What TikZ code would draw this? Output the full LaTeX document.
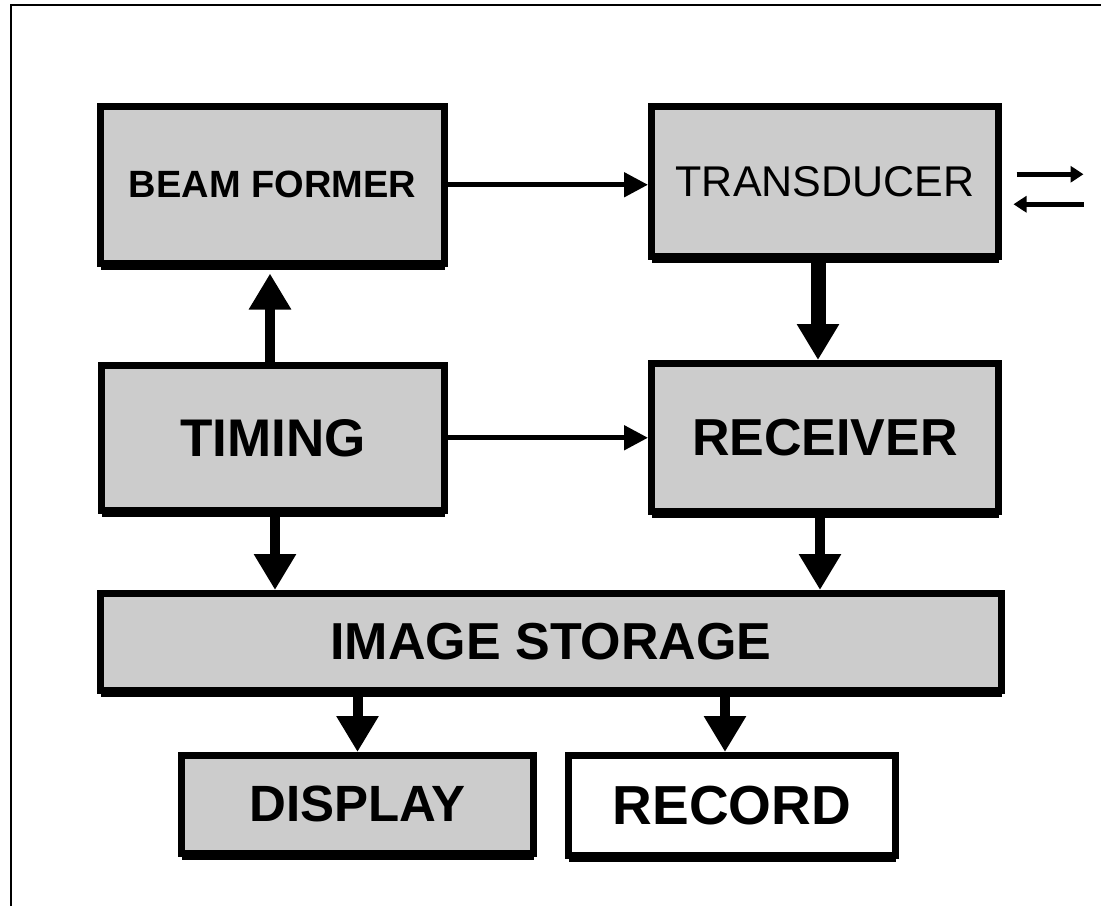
\documentclass[tikz,border=0pt]{standalone}
\usepackage{fontspec}
\setmainfont{Liberation Sans}
\usetikzlibrary{arrows.meta,shapes,shadows}
\definecolor{boxgray}{RGB}{204,204,204}
\tikzset{
  basic/.style  = {draw, line width=7pt, rectangle, inner sep=0pt,
                   drop shadow={shadow xshift=0pt, shadow yshift=-7pt,
                   fill=black, opacity=1}},
  block/.style  = {basic, fill=boxgray},
  blank/.style  = {basic, fill=white},
  thin arrow/.style  = {line width=5pt, -{Triangle[length=24pt,width=24pt]}},
  thick arrow/.style = {line width=10pt, -{Triangle[length=36pt,width=40pt]}},
  small arrow/.style = {line width=4.5pt, -{Triangle[length=13pt,width=16pt]}}
}
\begin{document}
\begin{tikzpicture}[x=1pt, y=-1pt]
\useasboundingbox (0,0) rectangle (1101,906);
% outer frame
\draw[line width=2pt] (11,906) -- (11,5) -- (1101,5);

% the blocks
\node[block, minimum width=344pt, minimum height=156.5pt,
  font=\bfseries\fontsize{38}{44}\selectfont] (bf) at (272.5,184.75) {BEAM FORMER};
\node[block, minimum width=347pt, minimum height=149.5pt,
  font=\fontsize{43}{50}\selectfont] (tr) at (825,181.25) {TRANSDUCER};
\node[block, minimum width=343pt, minimum height=144.5pt,
  font=\bfseries\fontsize{53}{60}\selectfont] (tim) at (273,437.75) {TIMING};
\node[block, minimum width=347pt, minimum height=147.5pt,
  font=\bfseries\fontsize{52}{60}\selectfont] (rec) at (825,437.25) {RECEIVER};
\node[block, minimum width=901pt, minimum height=96.5pt,
  font=\bfseries\fontsize{52}{60}\selectfont] (is) at (551,641.75) {IMAGE STORAGE};
\node[block, minimum width=352pt, minimum height=97.5pt,
  font=\bfseries\fontsize{51}{58}\selectfont] (disp) at (357.5,804.25) {DISPLAY};
\node[blank, minimum width=327pt, minimum height=99.5pt,
  font=\bfseries\fontsize{55}{62}\selectfont] (rcd) at (732,805.25) {RECORD};

% free ends of the transducer arrows
\coordinate (txo) at ([xshift=14.5pt,yshift=7pt]tr.east);
\coordinate (txi) at ([xshift=81.5pt,yshift=-23pt]tr.east);

% connectors
\draw[thin arrow] (bf.east) -- (bf.east -| tr.west);
\draw[thin arrow] (tim.east) -- (tim.east -| rec.west);
\draw[thick arrow] ([xshift=-3pt]tim.north) -- ([xshift=-3pt,yshift=-7pt]tim.north |- bf.south);
\draw[thick arrow, line width=15pt] ([xshift=-7pt]tr.south) -- ([xshift=-7pt]tr.south |- rec.north);
\draw[thick arrow] ([xshift=2pt]tim.south) -- ([xshift=2pt]tim.south |- is.north);
\draw[thick arrow] ([xshift=-5pt]rec.south) -- ([xshift=-5pt]rec.south |- is.north);
\draw[thick arrow] (disp.north |- is.south) -- (disp.north);
\draw[thick arrow] ([xshift=-7pt]rcd.north |- is.south) -- ([xshift=-7pt]rcd.north);
\draw[small arrow] (txo) -- ++(67,0);
\draw[small arrow] (txi) -- ++(-70,0);

\end{tikzpicture}
\end{document}
